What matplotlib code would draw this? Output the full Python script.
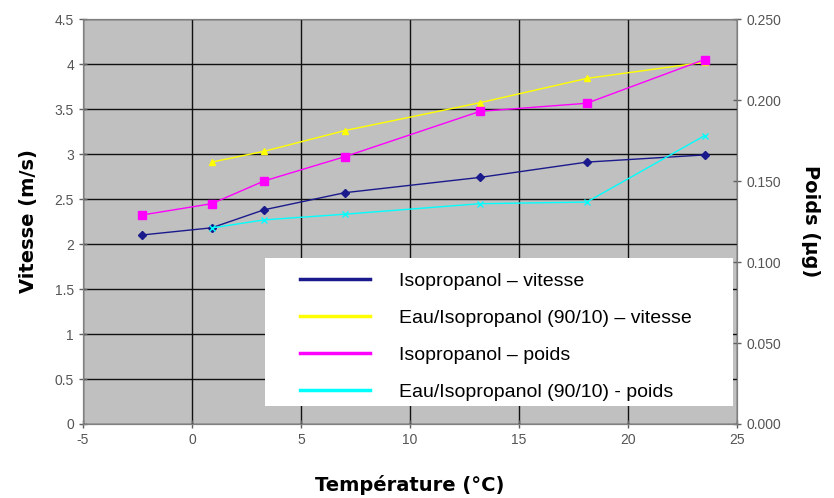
import numpy as np
import matplotlib.pyplot as plt
from matplotlib.lines import Line2D
from matplotlib.patches import Rectangle

plt.rcParams['font.family'] = ['Liberation Sans', 'DejaVu Sans']
plt.rcParams['axes.unicode_minus'] = False

# temperatures (°C)
t_iso = [-2.3, 0.9, 3.3, 7.0, 13.2, 18.1, 23.5]
t_eau = [0.9, 3.3, 7.0, 13.2, 18.1, 23.5]

# vitesse (m/s)
v_iso = [2.10, 2.18, 2.38, 2.57, 2.74, 2.91, 2.99]
v_eau = [2.91, 3.03, 3.26, 3.57, 3.84, 4.02]

# poids (µg)
p_iso = [0.129, 0.136, 0.150, 0.165, 0.193, 0.198, 0.225]
p_eau = [0.121, 0.126, 0.1295, 0.136, 0.137, 0.178]

labels = ["Isopropanol \u2013 vitesse",
          "Eau/Isopropanol (90/10) \u2013 vitesse",
          "Isopropanol \u2013 poids",
          "Eau/Isopropanol (90/10) - poids"]
colors = ["#1A1A8C", "#FFFF00", "#FF00FF", "#00FFFF"]

fig = plt.figure(figsize=(8.34, 4.98), dpi=100)
ax = fig.add_axes([0.0995, 0.1486, 0.7845, 0.8132])
ax.set_facecolor("#C0C0C0")
ax2 = ax.twinx()

ax.plot(t_iso, v_iso, color=colors[0], lw=1, marker="D", ms=4, zorder=3)
ax.plot(t_eau, v_eau, color=colors[1], lw=1, marker="^", ms=4, zorder=3)
ax2.plot(t_iso, p_iso, color=colors[2], lw=1, marker="s", ms=6, zorder=3)
ax2.plot(t_eau, p_eau, color=colors[3], lw=1, marker="x", ms=5, mew=1, zorder=3)

ax.set_xlim(-5, 25)
ax.set_ylim(0, 4.5)
ax2.set_ylim(0, 0.25)
ax.set_xticks(np.arange(-5, 26, 5))
ax.set_yticks(np.arange(0, 4.51, 0.5))
ax.set_yticklabels(["0", "0.5", "1", "1.5", "2", "2.5", "3", "3.5", "4", "4.5"])
ax2.set_yticks(np.arange(0, 0.251, 0.05))
ax2.set_yticklabels(["%.3f" % v for v in np.arange(0, 0.251, 0.05)])

ax.grid(True, color="#101010", lw=1)
ax.set_axisbelow(True)

for a in (ax, ax2):
    for s in a.spines.values():
        s.set_color("#808080")
    a.tick_params(colors="#555555", labelsize=10, length=6, width=1, direction="inout")
    a.tick_params(axis="both", which="both", color="#606060")

lab = dict(fontsize=14, fontweight="bold", family="DejaVu Sans")
ax.set_xlabel("Température (°C)", labelpad=20, **lab)
ax.set_ylabel("Vitesse (m/s)", labelpad=12, **lab)
ax2.set_ylabel("Poids (µg)", rotation=270, labelpad=28, **lab)

# white legend box
ax2.add_patch(Rectangle((0.278, 0.044), 0.716, 0.366, transform=ax2.transAxes,
                        facecolor="white", edgecolor="none", zorder=5))
handles = [Line2D([], [], color=c, lw=2.5) for c in colors]
leg = ax2.legend(handles, labels, loc="upper left",
                 bbox_to_anchor=(0.323, 0.39), frameon=False,
                 fontsize=14, handlelength=3.6, handletextpad=1.5,
                 labelspacing=1.0, borderpad=0.3, borderaxespad=0)
leg.set_zorder(6)

fig.savefig("out.png", dpi=100)
